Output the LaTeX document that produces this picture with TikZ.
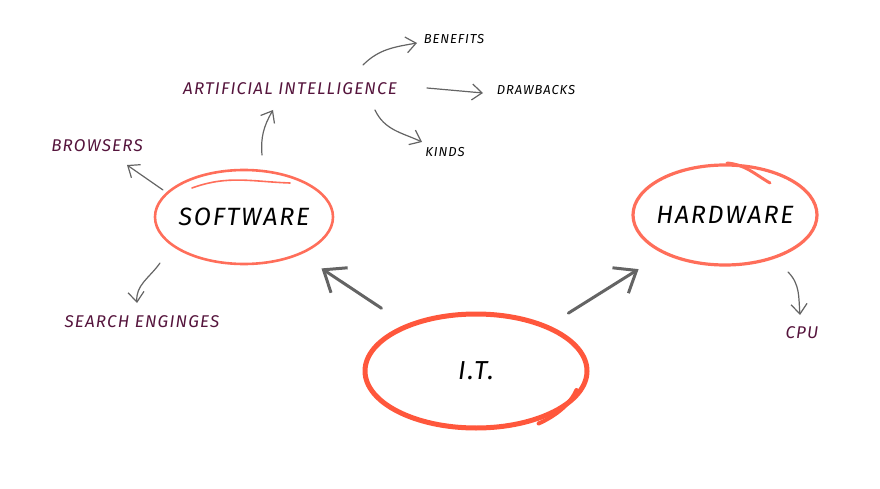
\documentclass[tikz,border=0pt]{standalone}
\usepackage{fontspec}
\newfontfamily\handfont[LetterSpace=7]{Fira Sans}
\usetikzlibrary{arrows.meta,positioning,shapes.geometric}

\begin{document}
\begin{tikzpicture}[x=1pt, y=1pt,
    hand/.style={font=\handfont\itshape\fontsize{#1}{#1}\selectfont},
    topic/.style={ellipse, draw=swred, line width=2.6pt, inner sep=-14pt, text=black},
    sub/.style={inner sep=2pt, text=plum},
    leaf/.style={inner sep=2pt, text=black, hand=13},
    arr/.style={draw=pencil, line width=1.2pt, line cap=round, -{Straight Barb[length=10pt,width=16pt]}},
    bigarr/.style={draw=pencil, line width=3pt, line cap=round, -{Straight Barb[length=19pt,width=30pt]}}
]
    % Colors
    \definecolor{itred}{RGB}{255, 87, 60}
    \definecolor{swred}{RGB}{255, 110, 90}
    \definecolor{pencil}{RGB}{100, 100, 100}
    \definecolor{plum}{RGB}{85, 20, 60}

    \useasboundingbox (0,0) rectangle (880,488);

    % Main topics
    \node[topic, draw=itred, line width=5pt, minimum width=222pt, minimum height=114pt, hand=26] (it) at (476,117) {I.T.};
    \node[topic, minimum width=178pt, minimum height=94pt, hand=25] (sw) at (244,271) {SOFTWARE};
    \node[topic, line width=3.2pt, minimum width=184pt, minimum height=100pt, hand=25] (hw) at (725,273) {HARDWARE};

    % Extra sketch strokes
    \draw[itred, line width=4pt, line cap=round] ([yshift=-3pt]it.center) ++(-15:104pt and 62pt) arc[start angle=-15, end angle=-53, x radius=104pt, y radius=62pt];
    \draw[swred, line width=1.6pt, line cap=round] ([shift={(-52,29)}]sw.center) to[out=20, in=178] ([shift={(46,34)}]sw.center);
    \draw[swred, line width=3pt, line cap=round] ([shift={(2,52)}]hw.center) to[out=-5, in=150] ([shift={(45,32)}]hw.center);

    % Subtopics
    \node[sub, hand=17] (browsers) at (97,342) {BROWSERS};
    \node[sub, hand=17] (search) at (142,166) {SEARCH ENGINGES};
    \node[sub, hand=17] (ai) at (290,399) {ARTIFICIAL INTELLIGENCE};
    \node[sub, hand=17] (cpu) at (802,155) {CPU};
    \node[leaf] (benefits) at (454,449) {BENEFITS};
    \node[leaf] (drawbacks) at (536,398) {DRAWBACKS};
    \node[leaf] (kinds) at (445,336) {KINDS};

    % Big arrows
    \draw[bigarr, shorten <=29pt, shorten >=25pt] (it) -- (sw);
    \draw[bigarr, shorten <=23pt, shorten >=29pt] (it) -- (hw);

    % Small arrows
    \draw[arr] ([shift={(-81,27)}]sw.center) -- ([shift={(30,-19)}]browsers.center);
    \draw[arr] ([shift={(-84,-46)}]sw.center) to[out=235, in=95] ([shift={(-5,19)}]search.center);
    \draw[arr] ([shift={(18,62)}]sw.center) to[out=95, in=240] ([shift={(-17,-21)}]ai.center);
    \draw[arr] ([shift={(73,24)}]ai.center) to[out=45, in=190] ([shift={(-37,-4)}]benefits.center);
    \draw[arr] ([shift={(137,1)}]ai.center) -- ([shift={(-53,-3)}]drawbacks.center);
    \draw[arr] ([shift={(85,-21)}]ai.center) to[out=-65, in=155] ([shift={(-23,10)}]kinds.center);
    \draw[arr] ([shift={(63,-57)}]hw.center) to[out=-45, in=95] ([shift={(-2,18)}]cpu.center);

\end{tikzpicture}
\end{document}
